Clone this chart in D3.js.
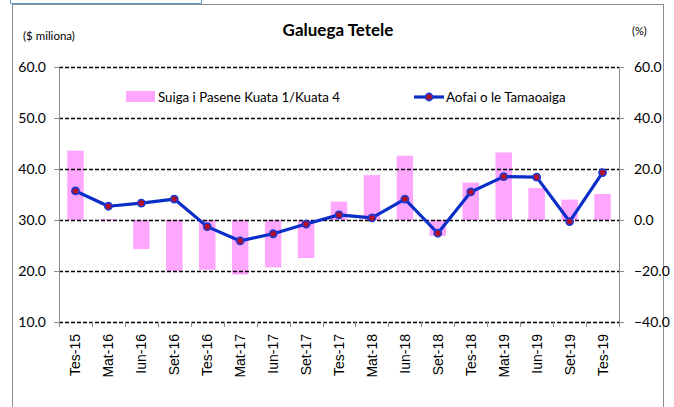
<!DOCTYPE html>
<html>
<head>
<meta charset="utf-8">
<script src="https://cdn.jsdelivr.net/npm/d3@7"></script>
<style>
  body { margin: 0; background: #fff; }
  svg { display: block; }
</style>
</head>
<body>
<div id="chart"></div>
<script>
const WIDTH = 674, HEIGHT = 407;
const categories = ["Tes-15","Mat-16","Iun-16","Set-16","Tes-16","Mat-17","Iun-17","Set-17",
  "Tes-17","Mat-18","Iun-18","Set-18","Tes-18","Mat-19","Iun-19","Set-19","Tes-19"];
// percent change, right axis
const pctChange = [27.2, 0.4, -11.4, -20.1, -19.5, -21.4, -18.6, -14.9,
  7.2, 17.6, 25.2, -6.2, 14.7, 26.5, 12.5, 8.0, 10.2];
// level, $ millions, left axis
const totalValue = [35.7, 32.7, 33.3, 34.1, 28.7, 25.9, 27.3, 29.2,
  31.0, 30.4, 34.1, 27.4, 35.5, 38.5, 38.4, 29.7, 39.3];
const leftTicks = [10, 20, 30, 40, 50, 60];
const rightTicks = [-40, -20, 0, 20, 40, 60];

const margin = {top: 67, left: 59, right: 55, bottom: 85};
const width = WIDTH - margin.left - margin.right;   // 560
const height = HEIGHT - margin.top - margin.bottom; // 255

const svg = d3.select("#chart").append("svg")
  .attr("width", WIDTH).attr("height", HEIGHT);

// outer chart frame
svg.append("rect").attr("x", 12.5).attr("y", 4.5)
  .attr("width", 651).attr("height", 410)
  .attr("fill", "none").attr("stroke", "#8c8c8c").attr("stroke-width", 1);
// blue selection strip in the top-left
svg.append("path").attr("d", "M10.5,0 V3.5 H201.5 V0")
  .attr("fill", "none").attr("stroke", "#5b9bd5").attr("stroke-width", 1);

const g = svg.append("g").attr("transform", `translate(${margin.left},${margin.top})`);

const x = d3.scaleBand().domain(categories).range([0, width]).paddingInner(0.5).paddingOuter(0.25);
const xPoint = d => x(d) + x.bandwidth() / 2;
const yL = d3.scaleLinear().domain([10, 60]).range([height, 0]);
const yR = d3.scaleLinear().domain([-40, 60]).range([height, 0]);

const font = "Lato, 'Open Sans', sans-serif";

// bars
g.append("g").selectAll("rect").data(categories).enter().append("rect")
  .attr("x", d => x(d))
  .attr("width", x.bandwidth())
  .attr("y", (d, i) => yR(Math.max(0, pctChange[i])))
  .attr("height", (d, i) => Math.max(1, Math.abs(yR(pctChange[i]) - yR(0))))
  .attr("fill", "#ffa6ff");

// gridlines
g.append("g").selectAll("line").data(leftTicks).enter().append("line")
  .attr("x1", 0).attr("x2", width)
  .attr("y1", d => Math.round(yL(d)) + 0.5).attr("y2", d => Math.round(yL(d)) + 0.5)
  .attr("stroke", "#000").attr("stroke-width", 1.3).attr("stroke-dasharray", "4,2");

// left axis
const leftAxis = g.append("g").call(d3.axisLeft(yL).tickValues(leftTicks).tickFormat(d3.format(".1f")).tickSize(5));
leftAxis.select(".domain").attr("stroke", "#8c8c8c");
leftAxis.selectAll(".tick line").attr("stroke", "#8c8c8c");
leftAxis.selectAll("text").attr("font-family", font).attr("font-size", 14).attr("fill", "#000").attr("x", -13);

// right axis
const rightAxis = g.append("g").attr("transform", `translate(${width},0)`)
  .call(d3.axisRight(yR).tickValues(rightTicks).tickFormat(d3.format(".1f")).tickSize(5));
rightAxis.select(".domain").attr("stroke", "#8c8c8c");
rightAxis.selectAll(".tick line").attr("stroke", "#8c8c8c");
rightAxis.selectAll("text").attr("font-family", font).attr("font-size", 14).attr("fill", "#000").attr("x", 15);

// bottom category ticks at band boundaries
const bounds = d3.range(categories.length + 1).map(i => i * width / categories.length);
g.append("g").selectAll("line").data(bounds).enter().append("line")
  .attr("x1", d => Math.round(d) + 0.5).attr("x2", d => Math.round(d) + 0.5)
  .attr("y1", height).attr("y2", height + 5)
  .attr("stroke", "#8c8c8c");

// category labels
g.append("g").selectAll("text").data(categories).enter().append("text")
  .attr("transform", d => `translate(${xPoint(d) + 5},${height + 12}) rotate(-90)`)
  .attr("text-anchor", "end")
  .attr("font-family", "'Liberation Sans', Arial, sans-serif")
  .attr("font-size", 14)
  .text(d => d);

// line
const line = d3.line().x(d => xPoint(d)).y((d, i) => yL(totalValue[i]));
g.append("path").datum(categories)
  .attr("d", line).attr("fill", "none")
  .attr("stroke", "#0a2fc8").attr("stroke-width", 3.2).attr("stroke-linejoin", "round");
g.append("g").selectAll("circle").data(categories).enter().append("circle")
  .attr("cx", d => xPoint(d)).attr("cy", (d, i) => yL(totalValue[i]))
  .attr("r", 3.6).attr("fill", "#b0102a").attr("stroke", "#1a3ad8").attr("stroke-width", 1.6);

// title and axis units
svg.append("text").attr("x", 338).attr("y", 36).attr("text-anchor", "middle")
  .attr("font-family", font).attr("font-weight", "bold").attr("font-size", 17)
  .text("Galuega Tetele");
svg.append("text").attr("x", 23).attr("y", 40)
  .attr("font-family", font).attr("font-size", 11.5).text("($ miliona)");
svg.append("text").attr("x", 632).attr("y", 35)
  .attr("font-family", font).attr("font-size", 11).text("(%)");

// legend
svg.append("rect").attr("x", 126).attr("y", 91).attr("width", 29).attr("height", 11).attr("fill", "#ffa6ff");
svg.append("text").attr("x", 158).attr("y", 102)
  .attr("font-family", font).attr("font-size", 13.3).text("Suiga i Pasene Kuata 1/Kuata 4");
svg.append("line").attr("x1", 414).attr("x2", 444).attr("y1", 97).attr("y2", 97)
  .attr("stroke", "#0a2fc8").attr("stroke-width", 3.2);
svg.append("circle").attr("cx", 429).attr("cy", 97).attr("r", 3.6)
  .attr("fill", "#b0102a").attr("stroke", "#1a3ad8").attr("stroke-width", 1.6);
svg.append("text").attr("x", 446).attr("y", 102)
  .attr("font-family", font).attr("font-size", 13.3).text("Aofai o le Tamaoaiga");
</script>
</body>
</html>
